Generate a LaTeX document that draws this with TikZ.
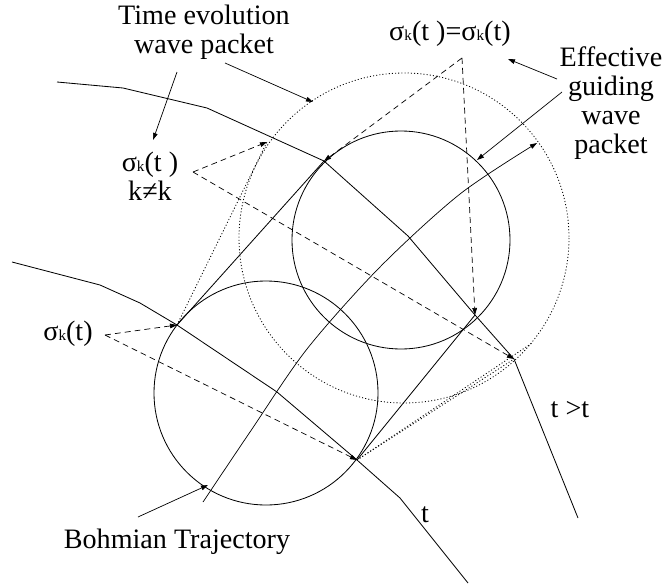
\documentclass[tikz,border=0pt]{standalone}
\usepackage{fontspec}
\setmainfont{Liberation Serif}
\usetikzlibrary{arrows.meta}
\tikzset{
    traj/.style={line width=0.7pt},
    arr/.style={-{Triangle[length=6pt,width=4pt]}, line width=0.6pt},
    dasharr/.style={-{Triangle[length=6pt,width=4pt]}, dash pattern=on 5pt off 3.5pt, line width=0.6pt},
    dotline/.style={dash pattern=on 0.9pt off 1.8pt, line width=0.7pt},
    lbl/.style={font=\fontsize{24}{24.7}\selectfont, inner sep=0pt}
}
\newcommand{\sgk}{σ{\fontsize{13}{13}\selectfont k}}

\begin{document}
\begin{tikzpicture}[x=0.03cm, y=-0.03cm]
    \useasboundingbox (0,0) rectangle (664,584);
    % points where the trajectories meet the packets
    \coordinate (A) at (177,325);
    \coordinate (B) at (357,460);
    \coordinate (C) at (324,161);
    \coordinate (D) at (475,315);
    \coordinate (E) at (267,142);
    \coordinate (F) at (514,359);
    \coordinate (G) at (532,343);
    % label points
    \coordinate (S1) at (105,335);
    \coordinate (S2) at (193,172);
    \coordinate (S3) at (462,58);

    % Packets
    \draw[traj] (266,393) circle (112);
    \draw[traj] (401,240) circle (109);
    \draw[dotline] (404,238) circle (165);

    % Trajectories
    \draw[traj] (57,82) -- (123,88) -- (207,108) -- (C) -- (408,236) -- (D) -- (F) -- (578,518);
    \draw[traj] (12,262) -- (100,285) -- (140,303) -- (A) -- (277,392) -- (B) -- (400,498) -- (468,583);
    \draw[traj] (A) -- (C);
    \draw[traj] (B) -- (D);
    \draw[dotline] (A) -- (E);
    \draw[dotline] (B) -- (F);
    \draw[dotline] (B) -- (G);
    \draw[arr] plot[smooth] coordinates {(203,502) (250,432) (307,349) (380,267) (460,194) (537,143)};

    % Widths
    \draw[dasharr] (S1) -- (A);
    \draw[dasharr] (S1) -- (B);
    \draw[dasharr] (S2) -- (E);
    \draw[dasharr] (S2) -- (F);
    \draw[dasharr] (S3) -- (C);
    \draw[dasharr] (S3) -- (D);

    % Labels
    \node[lbl, align=center] (tevo) at (204,32) {Time evolution\\wave packet};
    \node[lbl, align=center] (egw) at (611,103) {Effective\\guiding\\wave\\packet};
    \node[lbl, anchor=base] (sigtop) at (450,40) {\sgk(t )=\sgk(t)};
    \node[lbl, align=center] (sigmid) at (150,176) {\sgk(t )\\k≠k};
    \node[lbl, anchor=base] (siglow) at (68,340) {\sgk(t)};
    \node[lbl, anchor=base] (tgt) at (570,417) {t >t};
    \node[lbl, anchor=base] (tlow) at (425,522) {t};
    \node[lbl, anchor=base] (bohm) at (177,548) {Bohmian Trajectory};

    % Label arrows
    \coordinate (tevo1) at (177,72);
    \coordinate (tevo2) at (225,63);
    \coordinate (egw1) at (557,79);
    \coordinate (egw2) at (562,92);
    \coordinate (bohm1) at (138,517);
    \draw[arr] (tevo1) -- (153,140);
    \draw[arr] (tevo2) -- (313,102);
    \draw[arr] (egw1) -- (508,59);
    \draw[arr] (egw2) -- (477,160);
    \draw[arr] (bohm1) -- (208,485);
\end{tikzpicture}
\end{document}
